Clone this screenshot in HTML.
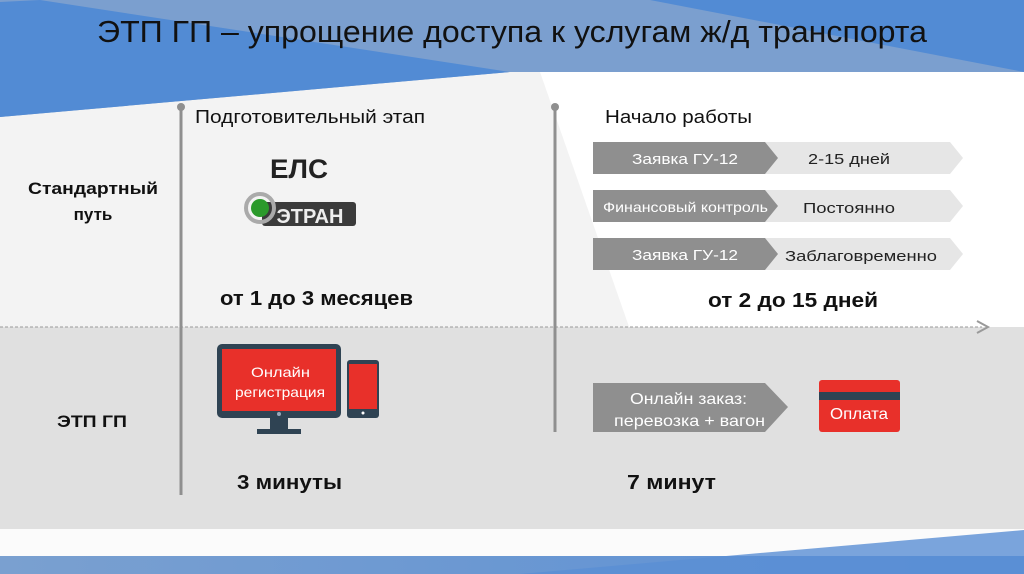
<!DOCTYPE html>
<html><head><meta charset="utf-8"><style>
html,body{margin:0;padding:0;width:1024px;height:574px;overflow:hidden;background:#fff}
svg{display:block}
text{font-family:"Liberation Sans","DejaVu Sans",sans-serif}
</style></head><body>
<svg width="1024" height="574" viewBox="0 0 1024 574" xmlns="http://www.w3.org/2000/svg">
<defs>
<linearGradient id="bb" x1="0" x2="1"><stop offset="0" stop-color="#7aa0d0"/><stop offset="1" stop-color="#5a8fd5"/></linearGradient>
</defs>
<rect x="0" y="0" width="1024" height="574" fill="#f3f3f3"/>
<polygon points="540,72 1024,72 1024,530 700,530" fill="#ffffff"/>
<polygon points="0,0 1024,0 1024,72 510,72 0,117" fill="#7b9fcf"/>
<polygon points="0,2 40,0 510,72 0,117" fill="#528bd4"/>
<polygon points="650,0 1024,0 1024,72" fill="#528bd4"/>
<text x="97" y="42" font-size="31" textLength="830" lengthAdjust="spacingAndGlyphs" fill="#111">ЭТП ГП – упрощение доступа к услугам ж/д транспорта</text>
<rect x="0" y="327" width="1024" height="202" fill="#e0e0e0"/>
<line x1="0" y1="327" x2="982" y2="327" stroke="#9a9a9a" stroke-width="1" stroke-dasharray="3,2"/>
<polyline points="977,321 988,327 977,333" fill="none" stroke="#9a9a9a" stroke-width="2"/>
<rect x="0" y="529" width="1024" height="27" fill="#fbfbfb"/>
<rect x="0" y="556" width="1024" height="18" fill="url(#bb)"/>
<polygon points="520,574 1024,530 1024,574" fill="#5a8fd5" opacity="0.8"/>
<line x1="181" y1="107" x2="181" y2="495" stroke="#8f8f8f" stroke-width="3"/>
<circle cx="181" cy="107" r="4" fill="#8f8f8f"/>
<line x1="555" y1="107" x2="555" y2="432" stroke="#8f8f8f" stroke-width="3"/>
<circle cx="555" cy="107" r="4" fill="#8f8f8f"/>
<text x="195" y="123" font-size="18" textLength="230" lengthAdjust="spacingAndGlyphs" fill="#111">Подготовительный этап</text>
<text x="605" y="123" font-size="18" textLength="147" lengthAdjust="spacingAndGlyphs" fill="#111">Начало работы</text>
<text x="28" y="194" font-size="17" font-weight="bold" textLength="130" lengthAdjust="spacingAndGlyphs" fill="#111">Стандартный</text>
<text x="93" y="220" font-size="17" font-weight="bold" text-anchor="middle" fill="#111">путь</text>
<text x="57" y="427" font-size="17" font-weight="bold" textLength="70" lengthAdjust="spacingAndGlyphs" fill="#111">ЭТП ГП</text>
<text x="270" y="178" font-size="27" font-weight="bold" textLength="58" lengthAdjust="spacingAndGlyphs" fill="#222">ЕЛС</text>
<rect x="262" y="202" width="94" height="24" rx="3" fill="#3b3b3b"/>
<circle cx="260" cy="208" r="14" fill="none" stroke="#aaa" stroke-width="4"/>
<circle cx="260" cy="208" r="9" fill="#2b9a2b"/>
<text x="310" y="223" font-size="20" font-weight="bold" text-anchor="middle" fill="#eee">ЭТРАН</text>
<text x="220" y="305" font-size="20" font-weight="bold" textLength="193" lengthAdjust="spacingAndGlyphs" fill="#111">от 1 до 3 месяцев</text>
<g font-size="15">
<polygon points="760,142 950,142 963,158 950,174 760,174" fill="#e6e6e6"/>
<polygon points="593,142 765,142 778,158 765,174 593,174" fill="#8f8f8f"/>
<text x="632" y="164" textLength="106" lengthAdjust="spacingAndGlyphs" fill="#fff">Заявка ГУ-12</text>
<text x="808" y="164" textLength="82" lengthAdjust="spacingAndGlyphs" fill="#222">2-15 дней</text>
<polygon points="760,190 950,190 963,206 950,222 760,222" fill="#e6e6e6"/>
<polygon points="593,190 765,190 778,206 765,222 593,222" fill="#8f8f8f"/>
<text x="603" y="212" textLength="165" lengthAdjust="spacingAndGlyphs" fill="#fff" font-size="14">Финансовый контроль</text>
<text x="803" y="213" textLength="92" lengthAdjust="spacingAndGlyphs" fill="#222">Постоянно</text>
<polygon points="760,238 950,238 963,254 950,270 760,270" fill="#e6e6e6"/>
<polygon points="593,238 765,238 778,254 765,270 593,270" fill="#8f8f8f"/>
<text x="632" y="260" textLength="106" lengthAdjust="spacingAndGlyphs" fill="#fff">Заявка ГУ-12</text>
<text x="785" y="261" textLength="152" lengthAdjust="spacingAndGlyphs" fill="#222">Заблаговременно</text>
</g>
<text x="708" y="307" font-size="20" font-weight="bold" textLength="170" lengthAdjust="spacingAndGlyphs" fill="#111">от 2 до 15 дней</text>
<rect x="217" y="344" width="124" height="74" rx="5" fill="#2f4353"/>
<rect x="222" y="349" width="114" height="62" fill="#e8302a"/>
<circle cx="279" cy="414" r="2" fill="#9ab"/>
<rect x="270" y="418" width="18" height="12" fill="#2f4353"/>
<rect x="257" y="429" width="44" height="5" fill="#2f4353"/>
<text x="251" y="377" font-size="14" textLength="59" lengthAdjust="spacingAndGlyphs" fill="#fff">Онлайн</text>
<text x="235" y="397" font-size="14" textLength="90" lengthAdjust="spacingAndGlyphs" fill="#fff">регистрация</text>
<rect x="347" y="360" width="32" height="58" rx="3" fill="#2f4353"/>
<rect x="349" y="364" width="28" height="45" fill="#e8302a"/>
<circle cx="363" cy="413" r="1.5" fill="#fff"/>
<polygon points="593,383 765,383 788,407 765,432 593,432" fill="#8f8f8f"/>
<text x="630" y="404" font-size="16" textLength="117" lengthAdjust="spacingAndGlyphs" fill="#fff">Онлайн заказ:</text>
<text x="614" y="426" font-size="16" textLength="151" lengthAdjust="spacingAndGlyphs" fill="#fff">перевозка + вагон</text>
<rect x="819" y="380" width="81" height="52" rx="3" fill="#e8302a"/>
<rect x="819" y="392" width="81" height="8" fill="#2f4353"/>
<text x="830" y="419" font-size="16" textLength="58" lengthAdjust="spacingAndGlyphs" fill="#fff">Оплата</text>
<text x="237" y="489" font-size="20" font-weight="bold" textLength="105" lengthAdjust="spacingAndGlyphs" fill="#111">3 минуты</text>
<text x="627" y="489" font-size="20" font-weight="bold" textLength="89" lengthAdjust="spacingAndGlyphs" fill="#111">7 минут</text>
</svg>
</body></html>
